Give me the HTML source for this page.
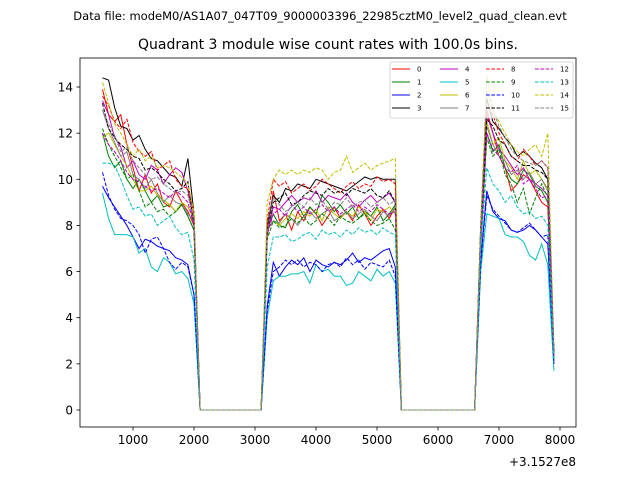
<!DOCTYPE html>
<html><head><meta charset="utf-8"><style>
body{margin:0;background:#fff;font-family:"Liberation Sans","DejaVu Sans",sans-serif}
svg text{font-family:"DejaVu Sans","Liberation Sans",sans-serif}
</style></head><body>
<svg id="chart" width="640" height="480">
<rect width="640" height="480" fill="#fff"/>
<text x="320" y="20" text-anchor="middle" font-size="11.5">Data file: modeM0/AS1A07_047T09_9000003396_22985cztM0_level2_quad_clean.evt</text>
<text x="328" y="49" text-anchor="middle" font-size="14">Quadrant 3 module wise count rates with 100.0s bins.</text>
<g id="plot"></g>
<text x="576" y="466" text-anchor="end" font-size="12">+3.1527e8</text>
</svg>
<script>
const colors=['#ff0000','#008000','#0000ff','#000000','#bf00bf','#00bfbf','#bfbf00','#808080'];
const xTicks=[1000,2000,3000,4000,5000,6000,7000,8000];
const yTicks=[0,2,4,6,8,10,12,14];
const Z11=[0,0,0,0,0,0,0,0,0,0,0], Z13=[0,0,0,0,0,0,0,0,0,0,0,0,0];
const s0=[13.9,12.8,12.5,12.8,11.5,10.5,9.5,10.2,9.4,9.8,9.0,8.8,9.5,9.0,8.6,8.0,...Z11,7.5,9.5,8.2,8.5,7.8,8.6,8.2,8.8,8.5,8.0,8.4,8.8,8.3,8.6,8.2,8.9,8.5,8.0,8.4,8.7,8.3,8.8,...Z13,7.0,13.0,12.0,11.0,10.5,9.5,9.8,10.2,10.0,9.5,9.0,8.8,2.5];
const s1=[12.0,11.0,10.5,10.8,10.0,9.6,10.0,9.5,9.0,9.3,8.8,8.9,8.6,8.9,8.4,7.8,...Z11,7.8,8.5,8.0,7.9,8.6,8.9,8.4,8.8,8.5,9.3,9.0,8.6,8.9,8.5,8.8,8.3,8.6,8.4,8.8,8.2,8.5,8.9,...Z13,7.2,12.0,11.2,11.5,10.5,10.0,9.8,10.4,10.2,9.7,9.5,9.0,2.2];
const s2=[9.7,9.2,8.8,8.4,8.0,7.5,7.0,7.4,7.3,7.1,7.0,6.9,6.6,6.5,6.3,5.0,...Z11,4.5,6.4,5.8,6.2,6.5,6.3,6.6,6.0,6.5,6.3,6.2,6.4,6.3,6.5,6.8,6.4,6.6,6.5,6.7,6.9,7.0,6.2,...Z13,6.5,9.5,8.6,8.3,8.2,7.8,7.7,7.8,8.0,7.8,7.5,7.2,2.0];
const s3=[14.4,14.3,13.1,12.3,12.2,11.7,11.9,11.3,10.9,10.8,10.5,10.2,10.1,9.7,10.9,8.5,...Z11,8.0,9.3,9.0,9.6,9.5,9.8,9.7,9.6,10.0,9.9,9.8,9.7,9.6,9.5,9.7,9.9,10.1,10.0,10.1,10.0,10.0,10.0,...Z13,8.0,13.5,12.5,12.2,11.8,11.5,11.0,11.2,11.0,10.7,10.5,10.0,2.5];
const s4=[13.4,12.8,11.8,11.4,10.5,10.8,10.2,10.0,10.6,10.4,9.8,10.2,10.5,10.3,9.5,8.0,...Z11,7.6,8.8,8.7,9.0,9.3,9.0,9.2,9.1,9.5,9.0,9.3,9.2,9.1,9.4,9.0,8.8,9.1,9.3,9.0,9.2,9.4,9.0,...Z13,7.5,12.8,12.0,11.3,11.0,10.6,10.2,10.5,10.0,9.8,9.6,9.3,2.3];
const s5=[9.4,8.3,7.6,7.6,7.6,7.5,6.8,7.0,6.2,6.0,6.6,6.4,5.9,6.0,5.7,4.6,...Z11,4.0,5.6,5.8,5.8,5.9,5.9,6.0,5.5,6.3,6.0,6.1,5.8,5.8,5.4,5.5,6.0,5.8,5.6,6.1,5.8,6.0,5.5,...Z13,6.0,8.5,8.4,8.3,7.6,7.5,7.5,7.3,6.7,6.5,7.2,6.3,1.7];
const s6=[11.8,12.0,11.5,11.0,10.6,10.0,9.5,9.5,9.7,9.3,9.1,8.9,8.6,9.0,8.8,8.3,...Z11,7.8,8.2,8.0,8.3,8.5,8.3,8.6,8.4,8.7,8.2,8.8,8.5,8.3,8.6,8.4,8.8,8.6,8.2,8.7,8.6,8.8,8.5,...Z13,7.5,12.5,11.5,11.8,10.8,10.5,10.0,10.8,10.2,10.4,10.0,9.6,2.4];
const s7=[13.0,12.2,11.6,11.0,11.2,10.2,10.0,9.6,10.0,9.4,9.0,9.3,9.0,8.9,8.5,8.2,...Z11,7.8,8.2,8.1,8.5,8.3,8.0,8.4,8.6,8.3,8.5,8.7,8.2,8.4,8.6,8.3,8.5,8.7,8.4,8.2,8.6,8.4,8.8,...Z13,7.2,12.3,11.5,11.0,10.8,10.2,10.4,10.0,10.3,9.8,10.0,9.5,2.4];
const s8=[13.6,13.2,12.5,12.2,12.6,11.6,11.2,11.0,11.2,10.4,10.6,10.8,10.0,9.7,9.6,8.5,...Z11,8.2,10.0,9.7,9.9,9.4,9.6,9.8,9.5,9.7,10.0,9.8,9.6,9.4,9.7,9.9,9.6,9.8,9.7,10.1,9.9,10.0,9.8,...Z13,7.8,13.2,12.8,12.0,11.5,11.0,10.8,11.3,11.0,10.6,10.8,10.5,2.6];
const s9=[12.2,11.5,11.0,10.5,10.0,10.2,9.5,8.8,9.0,8.6,8.7,8.4,8.6,8.9,8.4,7.8,...Z11,7.4,8.2,7.9,8.0,8.3,8.1,8.4,8.0,8.2,8.5,8.3,8.0,8.4,8.2,8.1,8.3,8.5,8.2,8.0,8.1,8.3,7.8,...Z13,7.0,11.8,11.0,11.3,10.2,9.8,9.0,9.6,8.5,9.2,9.8,9.2,2.2];
const s10=[10.3,9.3,8.7,8.3,8.2,8.0,7.6,6.8,7.4,7.5,7.0,6.4,6.1,6.4,6.2,5.0,...Z11,4.3,6.0,6.2,6.5,6.3,6.5,6.2,6.4,6.3,6.0,6.3,6.4,6.2,6.6,6.3,6.5,6.1,6.4,6.3,6.2,6.5,5.8,...Z13,6.3,9.3,8.7,8.4,8.1,7.8,7.7,7.9,8.1,7.8,7.5,7.6,2.0];
const s11=[13.3,12.2,11.8,11.5,11.3,11.0,10.9,10.4,10.5,10.3,10.0,9.8,9.5,9.6,9.9,8.0,...Z11,7.8,9.0,9.2,9.4,8.9,9.0,9.3,9.5,9.4,9.3,9.6,9.4,9.5,9.3,9.6,9.5,9.4,9.6,9.3,9.2,9.5,9.0,...Z13,7.8,12.6,12.3,11.7,11.5,11.0,10.8,10.6,10.6,10.4,10.3,10.0,2.5];
const s12=[12.0,11.5,11.2,10.8,10.3,10.0,9.9,9.7,9.5,9.6,9.4,9.2,9.5,9.3,9.0,8.0,...Z11,7.6,8.5,8.7,8.4,8.9,8.6,8.8,8.5,8.7,8.9,8.6,8.8,8.5,8.7,8.9,8.6,8.8,8.6,8.9,8.7,8.5,8.6,...Z13,7.3,12.0,11.3,11.0,10.5,10.3,10.6,9.8,10.0,9.6,9.2,9.3,2.3];
const s13=[10.7,10.7,10.6,10.0,9.3,8.7,8.8,8.4,8.5,8.0,8.2,8.4,7.9,7.6,7.7,6.5,...Z11,6.2,7.5,7.5,7.6,7.3,7.4,7.6,7.7,7.4,7.8,7.6,7.7,7.5,7.8,7.6,7.9,7.7,7.8,7.6,7.9,7.7,7.6,...Z13,7.0,10.5,9.8,9.5,9.0,9.3,8.8,8.5,8.6,8.3,8.4,8.0,2.2];
const s14=[14.2,13.3,12.4,12.0,11.5,11.0,11.3,10.8,11.0,10.5,10.6,10.5,10.3,10.1,9.8,8.6,...Z11,9.0,10.0,10.4,10.2,10.4,10.2,10.4,10.3,10.5,10.4,10.0,10.3,10.4,11.0,10.3,10.5,10.7,10.4,10.6,10.7,10.8,10.9,...Z13,8.0,14.5,13.0,12.5,12.0,11.5,11.2,11.0,11.3,11.5,11.0,12.0,2.7];
const s15=[13.0,12.4,11.9,11.2,11.4,10.8,10.5,10.2,10.0,10.1,9.8,9.6,9.4,9.5,9.3,8.3,...Z11,7.8,9.2,8.9,8.6,8.8,9.0,8.8,9.2,8.9,9.1,8.7,9.0,8.9,9.2,8.8,9.0,9.1,8.8,9.0,9.2,8.9,9.1,...Z13,7.6,13.8,13.0,12.3,11.8,11.3,11.0,10.8,10.7,10.6,10.8,10.5,2.5];
const series=[s0,s1,s2,s3,s4,s5,s6,s7,s8,s9,s10,s11,s12,s13,s14,s15];
const tStart=500, tStep=100;

const NS='http://www.w3.org/2000/svg';
const L=80,R=576,T=58,B=427;
const xs=v=>133+(v-1000)*0.061;
const ys=v=>410-v*23.07;
const g=document.getElementById('plot');
function mk(tag,attrs,parent){const e=document.createElementNS(NS,tag);for(const k in attrs)e.setAttribute(k,attrs[k]);(parent||g).appendChild(e);return e;}

const clip=mk('clipPath',{id:'pc'});mk('rect',{x:L,y:T,width:R-L,height:B-T},clip);
const lines=mk('g',{'clip-path':'url(#pc)'});


series.forEach((d,i)=>{
  const pts=d.map((v,j)=>xs(tStart+j*tStep).toFixed(2)+','+ys(v).toFixed(2)).join(' ');
  const p=mk('polyline',{points:pts,fill:'none',stroke:colors[i%8],'stroke-width':1},lines);
  if(i>=8)p.setAttribute('stroke-dasharray','3.7,1.6');
  
  
});
const frame=mk('rect',{x:L,y:T,width:R-L,height:B-T,fill:'none',stroke:'#000','stroke-width':0.8});


xTicks.forEach(v=>{
  const x=xs(v);
  mk('line',{x1:x,x2:x,y1:B,y2:B+3.5,stroke:'#000','stroke-width':0.8});
  const t=mk('text',{x:x,y:B+17,'text-anchor':'middle','font-size':12});
  t.textContent=v;
  
  
});
yTicks.forEach(v=>{
  const y=ys(v);
  mk('line',{x1:L-3.5,x2:L,y1:y,y2:y,stroke:'#000','stroke-width':0.8});
  const t=mk('text',{x:L-7,y:y+4.5,'text-anchor':'end','font-size':12});
  t.textContent=v;
  
  
});
// legend
const lg=mk('g',{});


mk('rect',{x:390,y:62,width:183,height:56,rx:2,fill:'#fff','fill-opacity':0.8,stroke:'#ccc','stroke-width':0.8},lg);
const colX=[392,440,486,535], rowY=[69,82,95,108];
series.forEach((d,i)=>{
  const c=Math.floor(i/4), r=i%4, x=colX[c], y=rowY[r];
  const e=mk('g',{},lg);
  
  
  const ln=mk('line',{x1:x,x2:x+18,y1:y,y2:y,stroke:colors[i%8],'stroke-width':1},e);
  if(i>=8)ln.setAttribute('stroke-dasharray','3.7,1.6');
  const t=mk('text',{x:x+25,y:y+2.5,'font-size':7},e);
  t.textContent=i;
});
</script>
</body></html>
